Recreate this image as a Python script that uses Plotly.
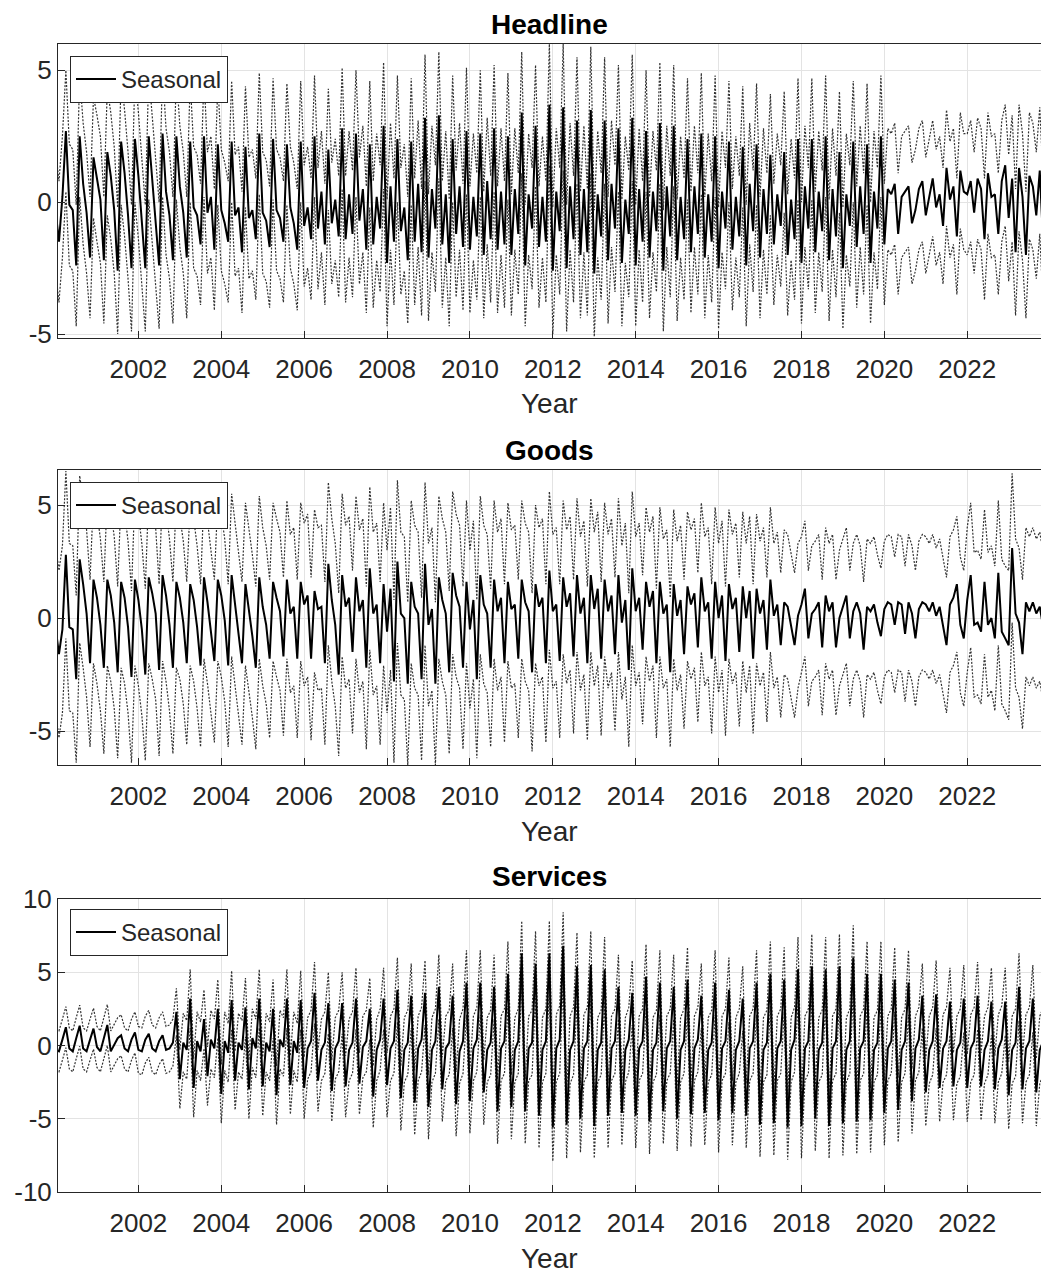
import plotly.graph_objects as go

# ---------------- data (monthly, Jan 2000 .. Dec 2023) ----------------
years = list(range(2000, 2024))
tick_years = [2002, 2004, 2006, 2008, 2010, 2012, 2014, 2016, 2018, 2020, 2022]

headline_seasonal = [
    -0.3, -1.5, 0.2, 2.7, -0.1, -0.3, -2.4, 2.5, 0.7, -0.4, -2.1, 1.7,   # 2000
    0.9, 0.1, -2.2, 1.9, 1.0, -0.3, -2.6, 2.3, 1.1, -0.5, -2.5, 2.4,     # 2001
    1.0, -0.6, -2.5, 2.5, 0.8, -0.8, -2.4, 2.6, 0.4, -0.5, -2.2, 2.5,    # 2002
    0.6, -0.4, -2.1, 2.3, -0.2, -0.5, -1.6, 2.5, -0.4, 0.2, -1.8, 2.2,   # 2003
    -0.3, -0.8, -1.5, 2.3, -0.5, -0.2, -1.9, 2.1, -0.6, -0.3, -1.4, 2.6, # 2004
    -0.4, -0.7, -1.7, 2.4, -0.3, -0.6, -1.5, 2.2, -0.2, -0.8, -1.8, 2.3, # 2005
    -0.9, -0.2, -1.4, 2.5, -1.0, 0.4, -1.6, 2.0, -0.8, 0.1, -1.3, 2.8,   # 2006
    -1.4, 0.3, -1.2, 2.6, -0.7, 0.5, -1.8, 2.2, -1.6, 0.2, -1.0, 2.9,    # 2007
    -2.3, 0.6, -1.5, 2.4, -1.1, -0.2, -2.2, 2.3, -1.5, 0.7, -1.9, 3.2,   # 2008
    -2.1, 0.5, -1.0, 3.3, -1.6, 0.3, -2.3, 2.4, -1.2, 0.6, -1.7, 2.7,    # 2009
    -1.8, 0.2, -1.3, 2.6, -2.0, 0.8, -1.4, 2.8, -1.8, 0.4, -1.6, 2.5,    # 2010
    -2.0, 0.5, -1.2, 3.4, -2.4, 0.3, -1.0, 2.9, -1.7, 0.2, -1.5, 3.7,    # 2011
    -2.6, 0.4, -1.1, 3.6, -2.5, 0.6, -1.4, 3.1, -2.0, 0.5, -1.9, 3.5,    # 2012
    -2.7, 0.3, -1.3, 3.1, -2.2, 0.7, -1.0, 2.8, -2.3, 0.1, -1.2, 3.2,    # 2013
    -2.4, 0.5, -1.5, 2.7, -2.1, 0.4, -1.1, 3.0, -2.6, 0.6, -1.3, 2.9,    # 2014
    -2.2, 0.2, -1.4, 2.4, -1.9, 0.6, -1.2, 2.6, -2.1, 0.3, -1.5, 2.5,    # 2015
    -2.5, 0.4, -1.0, 2.3, -1.8, 0.2, -1.3, 2.1, -2.4, 0.7, -1.1, 2.2,    # 2016
    -2.1, 0.5, -1.2, 1.8, -1.6, 0.3, -0.9, 1.9, -2.0, 0.1, -1.4, 2.4,    # 2017
    -2.3, 0.6, -1.0, 2.4, -1.9, 0.4, -1.1, 2.5, -2.2, 0.5, -1.3, 1.9,    # 2018
    -2.5, 0.3, -0.9, 2.3, -1.7, 0.6, -1.2, 2.2, -2.3, 0.4, -1.0, 2.5,    # 2019
    -1.6, 0.5, 0.3, 0.7, -1.2, 0.2, 0.4, 0.6, -0.8, -0.3, 0.5, 0.8,      # 2020
    -0.5, 0.2, 0.9, -0.2, 0.3, -0.9, 1.3, 0.1, 0.6, -1.3, 1.2, 0.4,      # 2021
    0.3, 0.8, -0.4, 0.9, 0.5, -1.4, 1.1, 0.2, 0.3, -1.2, 0.8, 1.4,       # 2022
    -0.6, 0.9, -1.9, 1.3, 0.2, -2.0, 1.0, 0.6, -0.5, 1.2, -1.6, 0.3,     # 2023
]
headline_ci_halfwidth = [2.3, 2.4, 2.4, 2.3, 2.3, 2.3, 2.3, 2.4, 2.4, 2.4, 2.4, 2.3,
                         2.4, 2.4, 2.3, 2.3, 2.3, 2.3, 2.3, 2.3, 2.3, 2.2, 2.3, 2.4]

goods_seasonal = [
    -0.4, -1.6, -0.5, 2.8, -0.4, -0.5, -2.7, 2.6, 1.5, 0.2, -2.0, 1.7,   # 2000
    0.9, -0.3, -2.2, 1.7, 1.0, -0.2, -2.4, 1.6, 0.9, -0.4, -2.6, 1.7,    # 2001
    0.8, -0.5, -2.5, 1.8, 1.1, 0.2, -2.3, 1.9, 1.0, -0.3, -2.2, 1.6,     # 2002
    0.9, -0.2, -2.0, 1.5, 0.8, -0.4, -2.1, 1.8, 0.7, -0.6, -1.9, 1.7,    # 2003
    1.0, -0.1, -2.1, 1.9, 0.6, -0.5, -2.0, 1.5, 0.4, -0.8, -2.2, 1.8,    # 2004
    0.5, -0.3, -1.8, 1.6, 0.9, 0.3, -1.7, 1.7, 0.2, 0.5, -1.8, 1.6,      # 2005
    0.6, 1.0, -1.8, 1.2, 0.4, 0.5, -2.0, 2.4, 0.8, -0.3, -2.5, 1.9,      # 2006
    0.5, 0.9, -1.5, 1.8, 0.3, 0.8, -2.2, 2.2, 0.2, 0.6, -2.0, 1.5,       # 2007
    -0.6, 1.3, -2.8, 2.5, 0.2, 0.0, -2.9, 1.6, 0.5, 0.2, -2.7, 2.4,      # 2008
    -0.3, 0.4, -2.9, 1.8, 0.8, 0.2, -2.4, 2.0, 1.0, 0.5, -2.2, 1.6,      # 2009
    -0.5, 0.8, -2.7, 1.9, 0.6, 0.2, -2.2, 1.7, 0.3, 0.9, -2.0, 1.6,      # 2010
    0.4, 0.6, -1.8, 1.7, 0.7, 0.3, -2.4, 1.5, 0.5, 0.9, -2.0, 2.1,       # 2011
    0.3, 0.6, -1.9, 1.8, 0.5, 1.1, -1.7, 1.9, 0.2, 0.9, -2.0, 1.9,       # 2012
    0.4, 1.3, -1.8, 1.7, 0.3, 1.0, -1.6, 1.9, -0.2, 0.8, -2.3, 2.2,      # 2013
    0.3, 0.9, -1.4, 1.6, 0.5, 1.2, -2.0, 1.6, 0.2, 0.6, -2.4, 1.5,       # 2014
    0.1, 0.8, -1.6, 1.4, 0.6, 1.1, -1.3, 1.8, 0.3, 0.7, -1.8, 1.6,       # 2015
    0.0, 1.0, -1.9, 1.5, 0.4, 0.9, -1.5, 1.4, 0.0, 1.2, -1.8, 1.3,       # 2016
    0.2, 0.8, -1.4, 1.7, 0.1, 0.6, -1.2, 0.7, 0.5, -0.3, -1.2, 0.1,      # 2017
    0.6, 1.3, -0.9, 0.2, 0.4, 0.7, -1.3, 1.0, 0.3, 0.7, -1.3, 0.0,       # 2018
    0.5, 1.0, -0.9, 0.3, 0.7, 0.2, -1.4, 0.5, 0.3, 0.6, -0.2, -0.8,      # 2019
    0.4, 0.7, 0.6, -0.3, 0.7, 0.6, -0.7, 0.7, 0.2, -0.9, 0.4, 0.7,       # 2020
    0.6, 0.3, 0.7, 0.1, 0.5, -0.3, -1.2, 0.6, 0.9, 1.5, -0.3, -0.9,      # 2021
    0.8, 1.9, -0.3, -0.2, -0.6, 1.6, -0.3, 0.0, -0.9, 2.0, -0.6, -0.9,   # 2022
    -1.2, 3.1, 0.2, -0.2, -1.6, 0.7, 0.3, 0.7, 0.2, 0.5, -0.4, 0.3,      # 2023
]
goods_ci_halfwidth = [3.7, 3.8, 3.8, 3.6, 3.6, 3.5, 3.6, 3.6, 3.6, 3.6, 3.5, 3.5,
                      3.4, 3.4, 3.3, 3.3, 3.3, 3.2, 3.0, 3.0, 3.0, 3.0, 3.2, 3.3]

services_seasonal = [
    -0.3, -0.4, 0.4, 1.25, -0.2, -0.4, 0.5, 1.35, -0.2, -0.4, 0.4, 1.15,  # 2000
    -0.1, -0.4, 0.5, 1.4, -0.4, 0.1, 0.5, 0.7, -0.2, -0.4, 0.4, 0.9,      # 2001
    -0.3, -0.4, 0.4, 0.8, -0.2, -0.4, 0.3, 0.7, -0.3, -0.2, 0.2, 2.3,     # 2002
    -2.3, 0.2, -0.3, 3.2, -2.9, 0.3, -0.4, 1.8, -2.1, 0.4, -0.2, 2.5,     # 2003
    -3.3, 0.3, -0.5, 3.1, -2.4, 0.2, -0.3, 2.6, -3.0, 0.5, -0.2, 3.2,     # 2004
    -2.8, 0.2, -0.4, 2.5, -3.4, 0.4, -0.1, 3.2, -2.7, 0.3, -0.5, 3.1,     # 2005
    -2.9, -0.2, 0.3, 3.6, -2.4, -0.3, 0.2, 2.9, -3.1, -0.2, 0.3, 2.9,     # 2006
    -2.8, -0.3, 0.2, 3.2, -2.6, -0.1, 0.3, 2.5, -3.5, -0.3, 0.4, 3.2,     # 2007
    -2.7, -0.2, 0.3, 3.8, -3.6, -0.3, 0.2, 3.4, -3.9, -0.2, 0.4, 3.6,     # 2008
    -4.2, -0.3, 0.3, 4.0, -3.0, -0.2, 0.2, 3.4, -4.0, -0.4, 0.3, 4.3,     # 2009
    -3.8, -0.2, 0.4, 4.3, -3.2, -0.3, 0.2, 4.0, -4.5, -0.2, 0.3, 4.9,     # 2010
    -4.2, -0.3, 0.3, 6.3, -4.5, -0.2, 0.2, 5.6, -4.8, -0.3, 0.3, 6.3,     # 2011
    -5.6, -0.2, 0.4, 6.8, -5.4, -0.3, 0.3, 5.4, -5.0, -0.2, 0.3, 5.5,     # 2012
    -5.5, -0.3, 0.2, 5.2, -4.8, -0.2, 0.3, 4.0, -4.6, -0.3, 0.4, 3.6,     # 2013
    -4.8, -0.2, 0.3, 4.7, -5.2, -0.3, 0.2, 4.3, -4.5, -0.2, 0.3, 4.0,     # 2014
    -5.0, -0.3, 0.3, 4.5, -4.7, -0.2, 0.4, 3.4, -4.6, -0.3, 0.2, 4.3,     # 2015
    -5.1, -0.2, 0.3, 3.8, -4.6, -0.3, 0.3, 3.2, -4.8, -0.2, 0.3, 4.3,     # 2016
    -5.4, -0.3, 0.2, 4.9, -5.3, -0.2, 0.3, 4.5, -5.6, -0.3, 0.4, 5.2,     # 2017
    -5.5, -0.2, 0.3, 5.4, -5.0, -0.3, 0.2, 5.2, -5.5, -0.2, 0.3, 5.4,     # 2018
    -5.3, -0.3, 0.3, 6.0, -5.2, -0.2, 0.3, 4.9, -5.1, -0.3, 0.2, 4.9,     # 2019
    -4.6, -0.2, 0.3, 4.5, -4.4, -0.3, 0.3, 4.3, -3.8, -0.2, 0.4, 3.4,     # 2020
    -3.2, -0.3, 0.3, 3.5, -2.9, -0.2, 0.3, 3.0, -2.8, -0.3, 0.2, 3.2,     # 2021
    -2.9, -0.2, 0.3, 3.4, -2.8, -0.3, 0.3, 3.0, -3.0, -0.2, 0.4, 3.0,     # 2022
    -3.4, -0.3, 0.2, 4.0, -3.0, -0.2, 0.3, 3.2, -3.2, -0.3, 0.3, 3.0,     # 2023
]
services_ci_halfwidth = [1.4, 1.4, 1.6, 2.0, 2.0, 2.0, 2.1, 2.1, 2.2, 2.2, 2.2, 2.2,
                         2.3, 2.2, 2.2, 2.2, 2.2, 2.2, 2.2, 2.2, 2.2, 2.3, 2.3, 2.3]

panel_titles = ["Headline", "Goods", "Services"]

# ---------------- figure ----------------
W, H = 1041, 1273
x_vals = [y + m / 12 for y in years for m in range(12)]

panels = [
    dict(s=headline_seasonal, hw=headline_ci_halfwidth,
         top=44, bottom=338, yr=[-5.15, 6.0], yt=[-5, 0, 5],
         title_y=25, year_y=404, leg_y=56),
    dict(s=goods_seasonal, hw=goods_ci_halfwidth,
         top=470, bottom=765, yr=[-6.5, 6.55], yt=[-5, 0, 5],
         title_y=450, year_y=831, leg_y=482),
    dict(s=services_seasonal, hw=services_ci_halfwidth,
         top=899, bottom=1192, yr=[-10, 10], yt=[-10, -5, 0, 5, 10],
         title_y=877, year_y=1258, leg_y=909),
]

fig = go.Figure()
FONT = "Liberation Sans, Arial, sans-serif"
TXT = "#262626"
L_MARGIN = 58
plot_w = W - L_MARGIN

annotations = []
layout_axes = {}
for k, p in enumerate(panels):
    n = "" if k == 0 else str(k + 1)
    xref, yref = "x" + n, "y" + n
    leg = "legend" + n
    upper = [v + p["hw"][i // 12] for i, v in enumerate(p["s"])]
    lower = [v - p["hw"][i // 12] for i, v in enumerate(p["s"])]
    for band in (upper, lower):
        fig.add_trace(go.Scatter(x=x_vals, y=band, mode="lines", xaxis=xref, yaxis=yref,
                                 line=dict(color="#000000", width=1.2, dash="2px,1.5px"),
                                 opacity=0.8, showlegend=False, hoverinfo="skip"))
    fig.add_trace(go.Scatter(x=x_vals, y=p["s"], mode="lines", xaxis=xref, yaxis=yref,
                             name="Seasonal", legend=leg,
                             line=dict(color="#000000", width=2)))

    dom = [1 - p["bottom"] / H, 1 - p["top"] / H]
    layout_axes["xaxis" + n] = dict(
        domain=[0, 1], anchor=yref, range=[2000.06, 2023.78], automargin=False,
        tickvals=tick_years, ticktext=[str(t) for t in tick_years],
        ticks="inside", ticklen=7, tickcolor=TXT, tickfont=dict(size=26, color=TXT),
        ticklabelstandoff=8,
        showgrid=True, gridcolor="#e3e3e3", gridwidth=1, zeroline=False,
        showline=True, linecolor=TXT, linewidth=1, mirror=True)
    layout_axes["yaxis" + n] = dict(
        domain=dom, anchor=xref, range=p["yr"], automargin=False,
        tickvals=p["yt"], ticktext=[str(t) for t in p["yt"]],
        ticks="inside", ticklen=7, tickcolor=TXT, tickfont=dict(size=26, color=TXT),
        showgrid=True, gridcolor="#e3e3e3", gridwidth=1, zeroline=False,
        showline=True, linecolor=TXT, linewidth=1, mirror=False)
    layout_axes[leg] = dict(
        x=(70 - L_MARGIN) / plot_w, y=1 - p["leg_y"] / H, xanchor="left", yanchor="top",
        bgcolor="white", bordercolor=TXT, borderwidth=1,
        font=dict(size=24, color=TXT, family=FONT), itemwidth=40,
        tracegroupgap=0)
    annotations.append(dict(text="<b>%s</b>" % panel_titles[k], xref="paper", yref="paper",
                            x=0.5, y=1 - p["title_y"] / H, xanchor="center", yanchor="middle",
                            showarrow=False, font=dict(size=28, color="#000000", family=FONT)))
    annotations.append(dict(text="Year", xref="paper", yref="paper",
                            x=0.5, y=1 - p["year_y"] / H, xanchor="center", yanchor="middle",
                            showarrow=False, font=dict(size=28, color=TXT, family=FONT)))

fig.update_layout(
    width=W, height=H,
    margin=dict(l=L_MARGIN, r=0, t=0, b=0, autoexpand=False),
    paper_bgcolor="white", plot_bgcolor="white",
    font=dict(family=FONT, color=TXT),
    annotations=annotations,
    **layout_axes,
)

fig.write_html("out.html")
